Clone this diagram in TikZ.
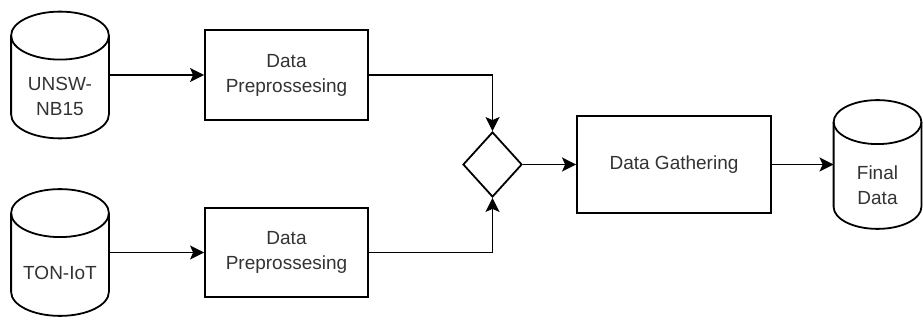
\documentclass[tikz,border=0pt]{standalone}
\usepackage{fontspec}
\setmainfont{Liberation Sans}
\usetikzlibrary{shapes.geometric,arrows.meta,calc}
\newcommand\lblfont{\fontsize{19}{25}\selectfont}
\definecolor{txtgray}{HTML}{333333}
\begin{document}
\begin{tikzpicture}[x=1pt,y=-1pt,line width=1.8pt,
  procbox/.style={draw,rectangle,inner sep=0pt,align=center,font=\lblfont,text=txtgray},
  cylnode/.style={rectangle,inner sep=0pt,draw=none},
  cyltext/.style={inner sep=0pt,align=center,font=\lblfont,text=txtgray},
  decision/.style={draw,diamond,inner sep=0pt,minimum width=59pt,minimum height=65pt},
  arr/.style={-{Stealth[length=14pt,width=14pt,inset=3pt]}}]
\fill[white] (0,0) rectangle (923,320);
\useasboundingbox (0,0) rectangle (923,320);
% cylinders (invisible nodes as anchors)
\node[cylnode,minimum width=96pt,minimum height=125pt] (c1) at (60,75) {};
\node[cylnode,minimum width=96pt,minimum height=125pt] (c2) at (60,252.5) {};
\node[cylnode,minimum width=86pt,minimum height=127pt] (c3) at (877.5,164.5) {};
\foreach \c/\r in {c1/24,c2/24,c3/22}{
  \path (\c.north west) coordinate (nw) (\c.south east) coordinate (se) (\c.north east) coordinate (ne);
  \draw[fill=white] let \p1=(nw), \p2=(ne) in
    ($(nw)+(0,\r)$) arc[start angle=180,end angle=0,x radius={(\x2-\x1)/2},y radius=\r pt]
    -- ($(se)+(0,-\r)$) arc[start angle=0,end angle=-180,x radius={(\x2-\x1)/2},y radius=\r pt] -- cycle;
  \draw let \p1=(nw), \p2=(ne) in
    ($(nw)+(0,\r)$) arc[start angle=180,end angle=360,x radius={(\x2-\x1)/2},y radius=\r pt];
}
\node[cyltext] (t1) at (60,96) {UNSW-\\NB15};
\node[cyltext] (t2) at (60,272.5) {TON-IoT};
\node[cyltext] (t3) at (877.5,185) {Final\\Data};
% process boxes
\node[procbox,minimum width=163pt,minimum height=90pt] (b1) at (286.5,75) {Data\\Preprossesing};
\node[procbox,minimum width=163pt,minimum height=89pt] (b2) at (286.5,252.5) {Data\\Preprossesing};
\node[procbox,minimum width=194pt,minimum height=97pt] (b3) at (674,164.5) {Data Gathering};
\node[decision] (d) at (492.5,164.5) {};
% connectors
\draw[arr] (c1.east) -- (b1.west);
\draw[arr] (c2.east) -- (b2.west);
\draw[arr] (b1.east) -| (d.north);
\draw[arr] (b2.east) -| (d.south);
\draw[arr] (d.east) -- (b3.west);
\draw[arr] (b3.east) -- (c3.west);
\end{tikzpicture}
\end{document}
